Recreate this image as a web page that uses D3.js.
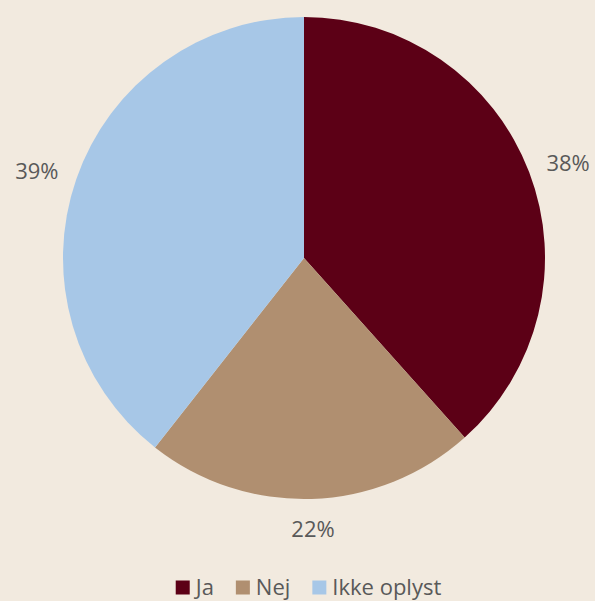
<!DOCTYPE html>
<html>
<head>
<meta charset="utf-8">
<script src="https://cdn.jsdelivr.net/npm/d3@7"></script>
<style>
  html, body { margin: 0; padding: 0; background: #F2EADF; }
  svg { display: block; }
</style>
</head>
<body>
<svg id="chart" width="595" height="601"></svg>
<script>
// Answer categories and their shares (percent)
const categories = ["Ja", "Nej", "Ikke oplyst"];
const shares = [38, 22, 39];
const colors = ["#5C0016", "#B08F70", "#A7C7E7"];

const W = 595, H = 601;
const cx = 304, cy = 258, radius = 241;
const fontFamily = "'Open Sans', 'DejaVu Sans', sans-serif";
const labelColor = "#595959";

const svg = d3.select("#chart");
svg.append("rect").attr("width", W).attr("height", H).attr("fill", "#F2EADF");

const data = categories.map((c, i) => ({ name: c, value: shares[i], color: colors[i] }));

const pie = d3.pie().value(d => d.value).sort(null);
const arc = d3.arc().innerRadius(0).outerRadius(radius);
const arcs = pie(data);

const g = svg.append("g").attr("transform", `translate(${cx},${cy})`);

g.selectAll("path.slice")
  .data(arcs)
  .join("path")
  .attr("class", "slice")
  .attr("d", arc)
  .attr("fill", d => d.data.color);

// Percentage labels placed just outside the rim, pushed outward by their own size
const labelR = radius + 20;
const fs = 22;
g.selectAll("text.pct")
  .data(arcs)
  .join("text")
  .attr("class", "pct")
  .attr("font-family", fontFamily)
  .attr("font-size", fs)
  .attr("fill", labelColor)
  .attr("text-anchor", "middle")
  .attr("dominant-baseline", "central")
  .text(d => d.data.value + "%")
  .each(function (d) {
    const a = (d.startAngle + d.endAngle) / 2;
    const bb = this.getBBox();
    const x = Math.sin(a) * labelR + Math.sin(a) * bb.width / 2;
    const y = -Math.cos(a) * labelR - Math.cos(a) * fs * 0.42;
    d3.select(this).attr("x", x).attr("y", y);
  });

// Legend along the bottom edge
const legend = svg.append("g");
const sw = 14, gapAfterSwatch = 6, gapBetween = 22;
let xpos = 0;
const items = legend.selectAll("g.item").data(data).join("g").attr("class", "item");
items.each(function (d) {
  const it = d3.select(this);
  it.append("rect").attr("x", 0).attr("y", -sw - 0.5).attr("width", sw).attr("height", sw).attr("fill", d.color);
  const t = it.append("text")
    .attr("x", sw + gapAfterSwatch)
    .attr("y", 0)
    .attr("font-family", fontFamily)
    .attr("font-size", 22)
    .attr("fill", labelColor)
    .text(d.name);
  it.attr("transform", `translate(${xpos},0)`);
  xpos += sw + gapAfterSwatch + t.node().getComputedTextLength() + gapBetween;
});
const legendWidth = xpos - gapBetween;
legend.attr("transform", `translate(${308.5 - legendWidth / 2},595)`);
</script>
</body>
</html>
